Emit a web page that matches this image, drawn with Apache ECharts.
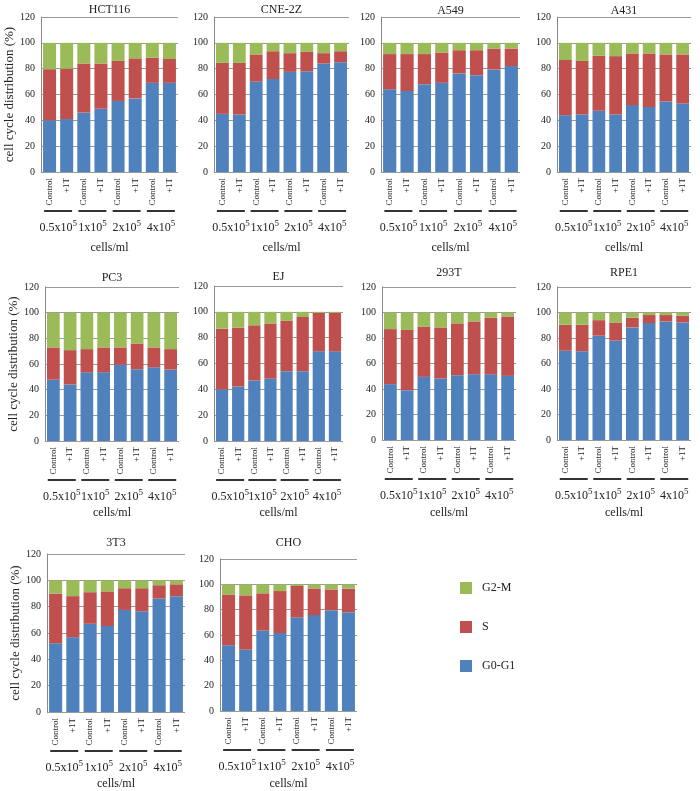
<!DOCTYPE html>
<html>
<head>
<meta charset="utf-8">
<script src="https://cdn.jsdelivr.net/npm/echarts@6/dist/echarts.min.js"></script>
<style>
  html, body { margin: 0; padding: 0; background: #fff; }
  #main { width: 700px; height: 791px; }
</style>
</head>
<body>
<div id="main"></div>
<script>
// categories
const treatments = ['Control', '+1T', 'Control', '+1T', 'Control', '+1T', 'Control', '+1T']
const densities = ['0.5', '1', '2', '4']
const cellLines = ['HCT116', 'CNE-2Z', 'A549', 'A431', 'PC3', 'EJ', '293T', 'RPE1', '3T3', 'CHO']
const phases = ['G0-G1', 'S', 'G2-M']
const yTicks = [0, 20, 40, 60, 80, 100, 120]

// values (%), per cell line: G0-G1, S, G2-M
const hct116G1 = [40, 41, 46, 49, 55, 57, 69, 69]
const hct116S = [39.6, 39, 38, 35, 31, 31, 19.5, 18.5]
const hct116G2 = [20.4, 20, 16, 16, 14, 12, 11.5, 12.5]

const cne2zG1 = [45, 44.5, 70, 72, 77.5, 78, 84, 85]
const cne2zS = [39.5, 40, 21, 21.5, 14.5, 15, 8, 8.5]
const cne2zG2 = [15.5, 15.5, 9, 6.5, 8, 7, 8, 6.5]

const a549G1 = [64, 62.7, 68, 69, 76.3, 75, 79.4, 82]
const a549S = [27.3, 28.6, 23.3, 23.5, 18, 19.3, 16.2, 13.6]
const a549G2 = [8.7, 8.7, 8.7, 7.5, 5.7, 5.7, 4.4, 4.4]

const a431G1 = [44, 44.6, 47.4, 44.6, 51.8, 50.3, 54.6, 53]
const a431S = [42.7, 41.4, 42.6, 45.1, 40, 41.5, 36.4, 38]
const a431G2 = [13.3, 14, 10, 10.3, 8.2, 8.2, 9, 9]

const pc3G1 = [47.8, 44, 53.5, 53.5, 59.4, 56, 57.4, 55.6]
const pc3S = [25.1, 26.8, 18.1, 19.4, 13.5, 20, 15.5, 16]
const pc3G2 = [27.1, 29.2, 28.4, 27.1, 27.1, 24, 27.1, 28.4]

const ejG1 = [40, 42.2, 46.9, 48.2, 54, 54, 69.4, 69.4]
const ejS = [47, 45.6, 42.7, 42.8, 39, 42, 29.8, 29.8]
const ejG2 = [13, 12.2, 10.4, 9, 7, 4, 0.8, 0.8]

const t293G1 = [43.8, 39, 49.5, 48.2, 50.8, 51.5, 51.5, 50.3]
const t293S = [43.2, 47.3, 39.5, 40.1, 40.7, 41.5, 44.5, 46.6]
const t293G2 = [13, 13.7, 11, 11.7, 8.5, 7, 4, 3.1]

const rpe1G1 = [70, 69.6, 81.8, 78, 88.3, 91.7, 93, 92.2]
const rpe1S = [20.4, 20.8, 12.2, 14.2, 7.7, 6.3, 5, 5.2]
const rpe1G2 = [9.6, 9.6, 6, 7.8, 4, 2, 2, 2.6]

const t3t3G1 = [52.2, 56.7, 67, 65.3, 77.5, 76.5, 86.2, 88]
const t3t3S = [37.8, 31.3, 24, 26.3, 16.5, 17.5, 10.1, 9]
const t3t3G2 = [10, 12, 9, 8.4, 6, 6, 3.7, 3]

const choG1 = [51.9, 48.4, 63.5, 61.6, 74, 75.7, 79.6, 78]
const choS = [40.1, 42.9, 29.4, 33.1, 24.7, 21.1, 16.4, 18.6]
const choG2 = [8, 8.7, 7.1, 5.3, 1.3, 3.2, 4, 3.4]

const panelData = [
  [hct116G1, hct116S, hct116G2],
  [cne2zG1, cne2zS, cne2zG2],
  [a549G1, a549S, a549G2],
  [a431G1, a431S, a431G2],
  [pc3G1, pc3S, pc3G2],
  [ejG1, ejS, ejG2],
  [t293G1, t293S, t293G2],
  [rpe1G1, rpe1S, rpe1G2],
  [t3t3G1, t3t3S, t3t3G2],
  [choG1, choS, choG2]
]

// layout of each small chart (px)
const panels = [
  { left: 41, top: 17, width: 137, height: 155, titleTop: 4, footTop: 242 },
  { left: 214, top: 17, width: 135, height: 155, titleTop: 4, footTop: 242 },
  { left: 381, top: 17, width: 139, height: 155, titleTop: 5, footTop: 242 },
  { left: 557, top: 17, width: 134, height: 155, titleTop: 5, footTop: 242 },
  { left: 45, top: 287, width: 134, height: 154, titleTop: 272, footTop: 507 },
  { left: 214, top: 286, width: 129, height: 155, titleTop: 271, footTop: 507 },
  { left: 382, top: 287, width: 134, height: 153, titleTop: 267, footTop: 507 },
  { left: 557, top: 287, width: 134, height: 153, titleTop: 267, footTop: 507 },
  { left: 47, top: 554, width: 138, height: 158, titleTop: 537, footTop: 778 },
  { left: 220, top: 559, width: 137, height: 152, titleTop: 537, footTop: 778 }
]

const colors = ['#4F81BD', '#C0504D', '#9BBB59']
const font = 'Liberation Serif'

const chart = echarts.init(document.getElementById('main'))

const grid = []
const xAxis = []
const yAxis = []
const series = []
const title = []

panels.forEach((p, i) => {
  grid.push({ left: p.left, top: p.top, width: p.width, height: p.height, containLabel: false })
  // treatment labels
  xAxis.push({
    type: 'category', gridIndex: i, data: treatments,
    axisLine: { show: false }, axisTick: { show: false },
    axisLabel: { rotate: 90, fontFamily: font, fontSize: 9, color: '#222', margin: 6, interval: 0 }
  })
  // density group labels with underline
  xAxis.push({
    type: 'category', gridIndex: i, data: densities, position: 'bottom',
    axisLine: { show: false }, axisTick: { show: false },
    axisLabel: {
      interval: 0, margin: 31,
      formatter: v => '{ln| }\n{t|' + v + 'x10}{s|5}',
      rich: {
        ln: { width: 28, height: 2, lineHeight: 16, backgroundColor: '#333', fontSize: 1 },
        t: { fontFamily: font, fontSize: 12, color: '#222', lineHeight: 18 },
        s: { fontFamily: font, fontSize: 9, color: '#222', lineHeight: 9, verticalAlign: 'top' }
      }
    }
  })
  const firstCol = i === 0 || i === 4 || i === 8
  yAxis.push({
    type: 'value', gridIndex: i, min: yTicks[0], max: yTicks[yTicks.length - 1], interval: 20,
    name: firstCol ? 'cell cycle distribution (%)' : '',
    nameLocation: 'middle', nameRotate: 90, nameGap: 14,
    nameTextStyle: { fontFamily: font, fontSize: 13, color: '#222' },
    axisLine: { show: true, lineStyle: { color: '#888', width: 1 } },
    axisTick: { show: false },
    axisLabel: { fontFamily: font, fontSize: 10, color: '#222', margin: 6 },
    splitLine: { lineStyle: { color: '#999', width: 1 } }
  })
  phases.forEach((ph, k) => {
    series.push({
      name: ph, type: 'bar', stack: 'p' + i,
      xAxisIndex: 2 * i, yAxisIndex: i,
      barWidth: '76%',
      itemStyle: { color: colors[k] },
      data: panelData[i][k]
    })
  })
  const cx = p.left + p.width / 2
  title.push({
    text: cellLines[i], left: cx, top: p.titleTop, textAlign: 'center', padding: 0,
    textStyle: { fontFamily: font, fontSize: 12, fontWeight: 'normal', color: '#222' }
  })
  title.push({
    text: 'cells/ml', left: cx, top: p.footTop, textAlign: 'center', padding: 0,
    textStyle: { fontFamily: font, fontSize: 12, fontWeight: 'normal', color: '#222' }
  })
})

chart.setOption({
  animation: false,
  title,
  grid,
  xAxis,
  yAxis,
  legend: {
    data: ['G2-M', 'S', 'G0-G1'],
    orient: 'vertical', left: 455, top: 577,
    itemWidth: 12, itemHeight: 12, itemGap: 27,
    icon: 'rect',
    textStyle: { fontFamily: font, fontSize: 12, color: '#222', padding: [0, 0, 0, 5] }
  },
  series
})
</script>
</body>
</html>
